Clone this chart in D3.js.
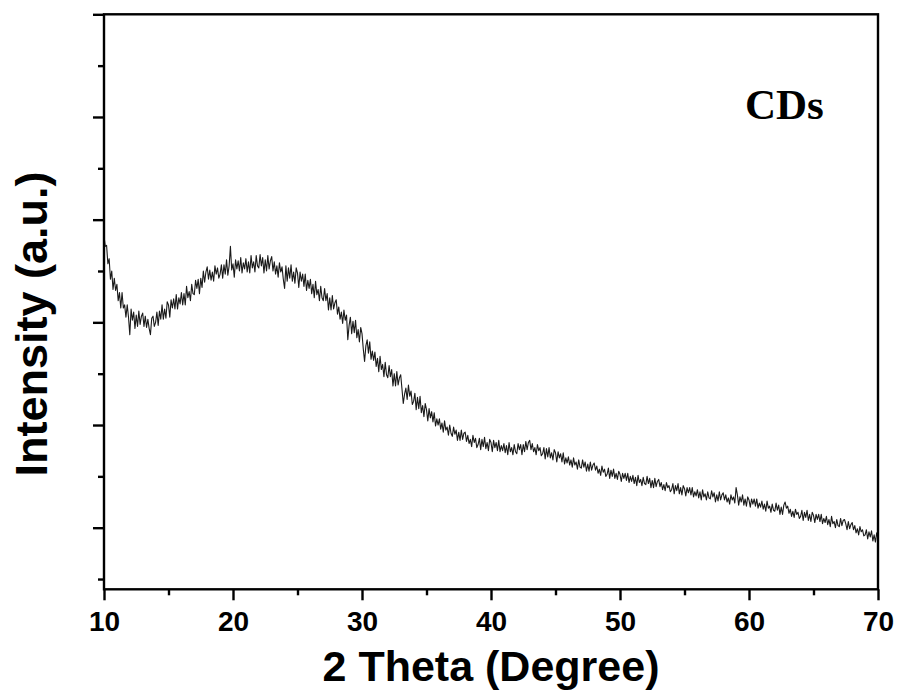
<!DOCTYPE html>
<html>
<head>
<meta charset="utf-8">
<script src="https://cdn.jsdelivr.net/npm/d3@7"></script>
<style>
  body { margin: 0; background: #fff; }
  svg { display: block; }
</style>
</head>
<body>
<svg id="chart" width="899" height="695"></svg>
<script>
// XRD pattern of CDs, 2-theta from 10 to 70 deg, step 0.1 (one row per degree)
const thetaStart = 10
const thetaStep = 0.1
const intensity = [
  384,374,375,357,362,342,350,332,343,331,
  337,321,329,314,329,314,317,305,317,305,
  288,313,302,310,294,307,296,311,298,306,
  309,296,306,295,303,294,288,304,306,296,
  300,310,297,311,303,317,303,313,304,320,
  317,305,322,314,323,313,327,313,324,318,
  329,317,328,317,335,324,330,321,337,328,
  327,341,333,342,328,343,334,350,339,349,
  354,342,351,341,349,340,355,347,353,343,
  347,356,343,356,347,361,346,355,374,351,
  357,344,361,352,360,350,363,348,358,352,
  362,349,359,348,365,353,359,349,365,355,
  353,366,355,363,348,361,350,365,352,360,
  364,350,359,347,355,344,358,349,354,342,
  333,355,340,353,343,356,340,349,338,353,
  348,334,349,340,347,335,347,331,341,333,
  342,328,337,324,340,327,332,321,335,324,
  321,333,321,328,312,324,312,326,313,319,
  322,308,315,303,310,299,312,302,307,283,
  297,305,289,301,290,302,285,293,281,295,
  289,274,262,277,283,270,281,264,272,263,
  271,257,265,252,267,254,259,247,261,249,
  246,258,247,254,238,250,238,252,239,246,
  249,235,221,230,236,225,239,228,233,220,
  223,231,215,227,216,228,212,219,208,221,
  215,204,216,207,213,203,212,199,206,200,
  206,196,202,193,204,195,198,190,200,192,
  189,198,191,195,185,193,185,195,186,192,
  193,184,190,182,186,179,190,183,187,178,
  181,187,176,186,179,188,177,183,175,186,
  183,174,185,178,183,175,185,174,180,175,
  182,173,180,171,183,174,178,171,181,174,
  172,182,176,181,171,181,174,184,176,183,
  185,176,182,174,178,171,181,175,178,170,
  172,178,167,177,169,178,168,173,166,176,
  173,164,174,168,172,164,173,162,168,163,
  169,161,166,159,168,161,164,157,166,159,
  158,166,159,164,155,162,155,164,156,161,
  163,156,160,153,157,151,160,154,157,150,
  152,158,148,156,150,157,148,153,147,155,
  152,145,153,148,153,146,153,144,150,145,
  151,143,149,141,151,144,147,141,149,143,
  142,150,143,148,139,146,139,148,140,145,
  147,140,144,137,142,136,144,139,141,135,
  137,143,133,141,136,143,133,139,132,141,
  138,131,139,134,139,132,139,130,135,131,
  137,129,135,127,137,130,133,127,135,129,
  128,136,130,134,125,132,126,135,127,132,
  134,127,132,125,129,123,132,127,130,124,
  139,132,122,130,125,132,122,128,121,130,
  127,120,128,123,128,121,128,119,124,120,
  126,118,123,116,126,119,121,115,123,117,
  116,124,117,122,113,120,113,122,125,119,
  121,114,118,111,116,110,118,113,115,109,
  111,117,107,115,110,117,107,113,106,115,
  112,105,113,108,113,106,113,104,109,105,
  111,103,108,101,111,104,106,100,108,102,
  101,109,102,107,108,104,98,106,99,103,
  105,98,102,95,99,93,101,96,98,92,
  93,98,89,96,91,97,87,93,86,95,
  89
]

const xMajorTicks = [10, 20, 30, 40, 50, 60, 70]
const xMinorTicks = [15, 25, 35, 45, 55, 65]
const yMajorTicks = [100, 200, 300, 400, 500, 600]
const yMinorTicks = [50, 150, 250, 350, 450, 550]

const xLabel = '2 Theta (Degree)'
const yLabel = 'Intensity (a.u.)'
const sampleLabel = 'CDs'

const pattern = intensity.map((v, i) => ({theta: thetaStart + i * thetaStep, value: v}))

const svg = d3.select('#chart')
const margin = {top: 14.3, right: 21, bottom: 105.7, left: 104}
const width = +svg.attr('width')
const height = +svg.attr('height')

const x = d3.scaleLinear()
  .domain([10, 70])
  .range([margin.left, width - margin.right])

const y = d3.scaleLinear()
  .domain([40, 600])
  .range([height - margin.bottom, margin.top])

svg.append('rect')
  .attr('width', width).attr('height', height)
  .attr('fill', '#fff')

// the curve
const line = d3.line()
  .x(d => x(d.theta))
  .y(d => y(d.value))

svg.append('path')
  .datum(pattern)
  .attr('d', line)
  .attr('fill', 'none')
  .attr('stroke', '#1a1a1a')
  .attr('stroke-width', 1.1)
  .attr('stroke-linejoin', 'round')

// axes
const bottomY = y.range()[0]
const font = '"Liberation Sans", Arial, sans-serif'

const xAxis = svg.append('g')
  .attr('transform', `translate(0,${bottomY})`)
  .call(d3.axisBottom(x).tickValues(xMajorTicks).tickSize(11).tickPadding(11).tickFormat(d3.format('d')))
const xMinor = svg.append('g')
  .attr('transform', `translate(0,${bottomY})`)
  .call(d3.axisBottom(x).tickValues(xMinorTicks).tickSize(6).tickFormat(''))

const yAxis = svg.append('g')
  .attr('transform', `translate(${margin.left},0)`)
  .call(d3.axisLeft(y).tickValues(yMajorTicks).tickSize(11).tickFormat(''))
const yMinor = svg.append('g')
  .attr('transform', `translate(${margin.left},0)`)
  .call(d3.axisLeft(y).tickValues(yMinorTicks).tickSize(6).tickFormat(''))

svg.selectAll('.domain').remove()
svg.selectAll('.tick line')
  .attr('stroke', '#000')
  .attr('stroke-width', 2.4)

xAxis.selectAll('text')
  .attr('font-family', font)
  .attr('font-weight', 'bold')
  .attr('font-size', 28)
  .attr('fill', '#000')

// frame
svg.append('rect')
  .attr('x', x.range()[0])
  .attr('y', y.range()[1])
  .attr('width', x.range()[1] - x.range()[0])
  .attr('height', y.range()[0] - y.range()[1])
  .attr('fill', 'none')
  .attr('stroke', '#000')
  .attr('stroke-width', 2.4)

// titles
svg.append('text')
  .attr('x', (x.range()[0] + x.range()[1]) / 2)
  .attr('y', 681)
  .attr('text-anchor', 'middle')
  .attr('font-family', font)
  .attr('font-weight', 'bold')
  .attr('font-size', 43)
  .text(xLabel)

svg.append('text')
  .attr('transform', 'translate(47,324) rotate(-90)')
  .attr('text-anchor', 'middle')
  .attr('font-family', font)
  .attr('font-weight', 'bold')
  .attr('font-size', 45)
  .text(yLabel)

svg.append('text')
  .attr('x', 745)
  .attr('y', 119)
  .attr('font-family', '"Liberation Serif", "Times New Roman", serif')
  .attr('font-weight', 'bold')
  .attr('font-size', 43)
  .text(sampleLabel)
</script>
</body>
</html>
